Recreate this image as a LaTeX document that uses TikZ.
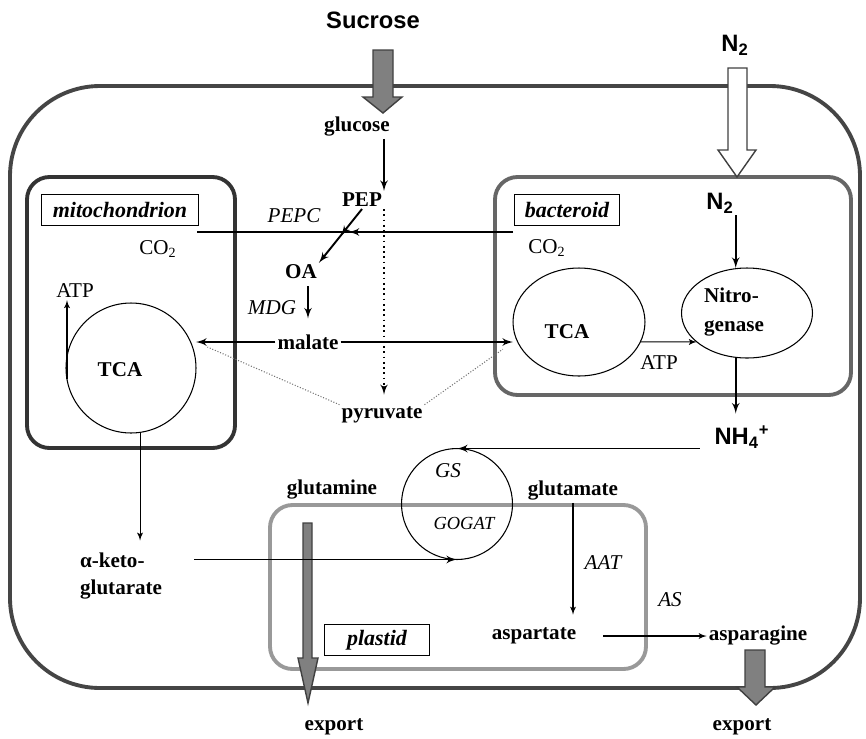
\documentclass[tikz,border=0pt]{standalone}
\usepackage{fontspec}
\setmainfont{Liberation Serif}
\setsansfont{Liberation Sans}
\usetikzlibrary{arrows, shapes.geometric, decorations.markings}
\tikzset{
>=latex', % filled arrow heads
met/.style={font=\fontsize{12}{13}\selectfont\bfseries, inner sep=1pt}, % metabolites
enz/.style={font=\fontsize{12}{13}\selectfont\itshape, inner sep=1pt}, % enzymes
plain/.style={font=\fontsize{12}{13}\selectfont, inner sep=1pt}, % CO2, ATP
ext/.style={font=\sffamily\bfseries\fontsize{13.5}{15}\selectfont, inner sep=1pt}, % supply from outside
tag/.style={draw, line width=0.6pt, font=\fontsize{12.5}{14}\selectfont\bfseries\itshape, minimum height=0.62cm, inner sep=0pt}, % compartment names
cell/.style={draw=black!73, line width=2.2pt, rounded corners=1.8cm},
organelle/.style={line width=2.2pt, rounded corners=0.45cm},
ring/.style={draw, line width=0.6pt, outer sep=0pt, inner sep=0pt},
flux/.style={->, line width=1.1pt},
conv/.style={->, line width=0.6pt},
pyr/.style={densely dotted, black!55, line width=0.6pt},
bigarrow/.style={draw=black!75, fill=black!50, line width=0.8pt},
}

\begin{document}
\begin{tikzpicture}[x=0.02cm, y=-0.02cm]
\useasboundingbox (0,0) rectangle (866,738);

% compartments
\draw[cell] (10,86) rectangle (860,688);
\draw[organelle, draw=black!80] (27,177) rectangle (235,448);
\draw[organelle, draw=black!60] (495,177) rectangle (851,395);
\draw[organelle, draw=black!40] (270,505) rectangle (646,669);

\node[tag, minimum width=3.14cm] (mito) at (120,210) {mitochondrion};
\node[tag, minimum width=2.1cm] (bact) at (567,210) {bacteroid};
\node[tag, minimum width=2.1cm] (plas) at (377,640) {plastid};

% uptake and export
\draw[bigarrow] (373,50) -- (393,50) -- (393,97) -- (402,97) -- (383,113) -- (363,97) -- (373,97) -- cycle;
\draw[bigarrow, fill=white] (728,68) -- (747,68) -- (747,150) -- (756,150) -- (737,177) -- (718,150) -- (728,150) -- cycle;
\draw[bigarrow] (303,523) -- (312,523) -- (312,658) -- (318,658) -- (308,703) -- (298,658) -- (303,658) -- cycle;
\draw[bigarrow] (745,650) -- (765,650) -- (765,687) -- (775,687) -- (756,705) -- (737,687) -- (745,687) -- cycle;

% metabolites
\node[ext] (sucrose) at (373,20) {Sucrose};
\node[ext] (n2top) at (735,45) {N\textsubscript{2}};
\node[met] (glucose) at (357,127) {glucose};
\node[met] (pep) at (362,200) {PEP};
\node[enz] (pepc) at (294,216) {PEPC};
\node[plain] (co2m) at (158,249) {CO\textsubscript{2}};
\node[plain] (co2b) at (547,248) {CO\textsubscript{2}};
\node[met] (oa) at (301,272) {OA};
\node[enz] (mdg) at (272,308) {MDG};
\node[met] (malate) at (308,342) {malate};
\node[met] (pyruvate) at (382,415) {pyruvate};
\node[plain] (atpm) at (75,291) {ATP};
\node[plain] (atpb) at (659,363) {ATP};
\node[ext] (n2in) at (720,203) {N\textsubscript{2}};
\node[ext] (nh4) at (742,437) {NH\textsubscript{4}\textsuperscript{+}};
\node[met, anchor=west, align=left, font=\fontsize{12}{15.5}\selectfont\bfseries] (akg) at (78,576) {α-keto-\\glutarate};
\node[met] (glutamine) at (332,490) {glutamine};
\node[met] (glutamate) at (573,491) {glutamate};
\node[enz] (aat) at (603,563) {AAT};
\node[enz] (as) at (670,600) {AS};
\node[met] (aspartate) at (534,636) {aspartate};
\node[met] (asparagine) at (758,636) {asparagine};
\node[met] (export1) at (334,727) {export};
\node[met] (export2) at (742,727) {export};

% cycles
\node[ring, circle, minimum size=2.6cm] (tcam) at (131,368) {};
\node[met] (tcamtxt) at (120,370) {TCA};
\node[ring, ellipse, minimum width=2.64cm, minimum height=2.16cm] (tcab) at (579,322) {};
\node[met] (tcabtxt) at (567,332) {TCA};
\node[ring, ellipse, minimum width=2.62cm, minimum height=1.8cm] (nitro) at (747,313) {};
\node[met, align=left, font=\fontsize{12}{16.5}\selectfont\bfseries] (nitrotxt) at (734,312) {Nitro-\\genase};
\node[ring, circle, minimum size=2.22cm] (gsgogat) at (457,504) {};
\node[enz] (gs) at (448,471) {GS};
\node[enz, font=\fontsize{10.5}{12}\selectfont\itshape] (gogat) at (464,523) {GOGAT};

% CO2 fixation
\coordinate (co2mtip) at (197,232);
\coordinate (co2btip) at (513,232);
\draw[line width=0.6pt, decoration={markings, mark=at position 0.52 with {\arrow[line width=1.1pt]{latex'}}}, postaction={decorate}] (co2btip) -- (co2mtip);

% connectors
\draw[flux] (glucose.south -| pep.north east) -- (pep.north east);
\draw[flux, decoration={markings, mark=at position 0.5 with {\arrow{latex'}}}, postaction={decorate}] (pep.south) -- (oa.north east);
\draw[flux, shorten <=0.1cm, shorten >=0.28cm] (oa.south -| malate.north) -- (malate.north);
\draw[flux] (malate.west) -- (malate.west -| tcam.east);
\draw[flux] (malate.east) -- (malate.east -| tcab.west);
\draw[->, dotted, line width=1pt, shorten >=0.2cm] (pep.south east) -- (pep.south east |- pyruvate.north);
\draw[pyr, shorten >=0.25cm] (pyruvate.north west) -- (malate.west -| tcam.east);
\draw[pyr, shorten >=0.25cm] (pyruvate.north east) -- (malate.east -| tcab.west);
\draw[conv] (tcam.190) -- (tcam.190 |- atpm.south);
\draw[conv, shorten >=0.2cm] (tcam.-82) -- (tcam.-82 |- akg.north);
\draw[flux] ([xshift=0.6cm]akg.east |- gsgogat.south) -- (gsgogat.south);
\draw[flux, shorten <=0.25cm] (nh4.west |- gsgogat.north) -- (gsgogat.north);
\draw[flux] (n2in.south east) -- (n2in.south east |- nitro.north);
\draw[flux, shorten >=0.2cm] (nitro.south -| n2in.south east) -- (nh4.north -| n2in.south east);
\draw[conv] (tcab.-18) -- (nitro.-150);
\draw[conv, shorten >=0.22cm] (glutamate.south) -- (glutamate.south |- aspartate.north);
\draw[conv, shorten <=0.5cm] (aspartate.east) -- (asparagine.west);
\end{tikzpicture}
\end{document}
